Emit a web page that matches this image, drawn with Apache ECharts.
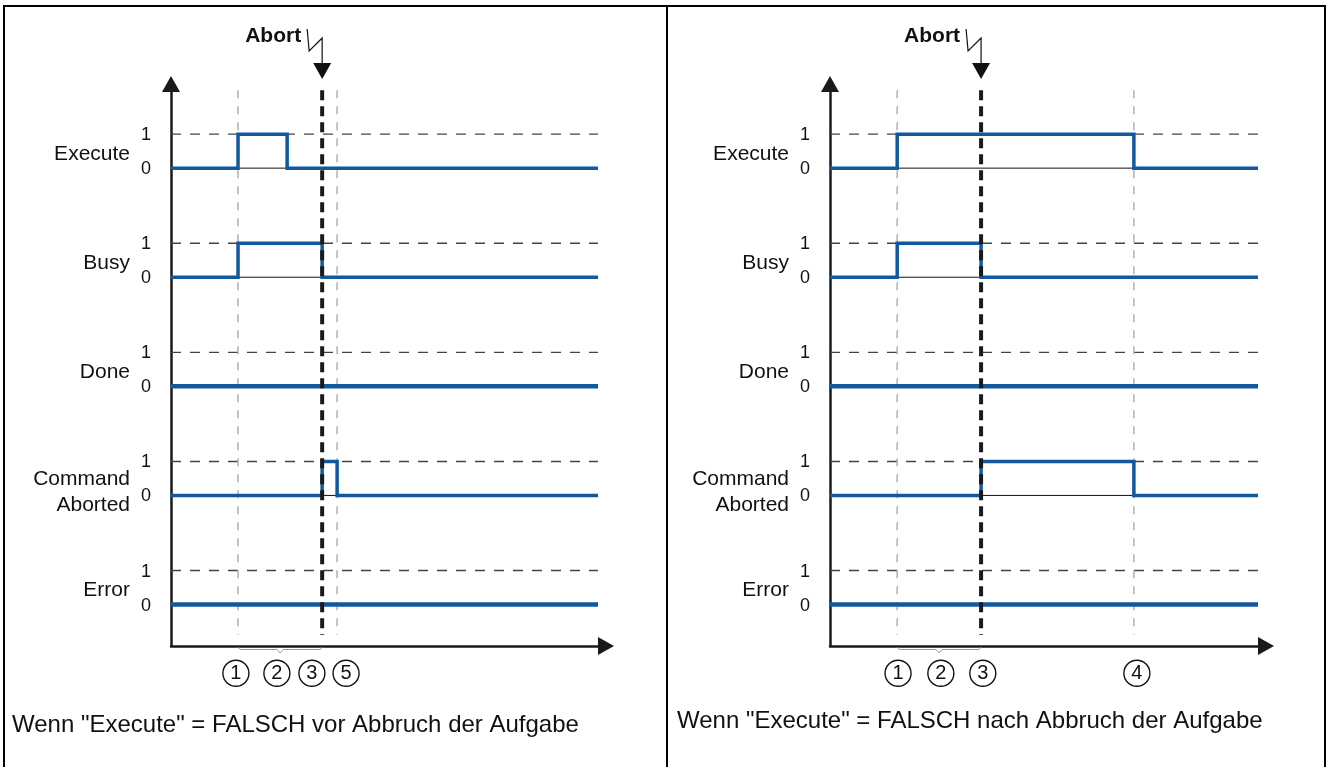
<!DOCTYPE html>
<html><head><meta charset="utf-8">
<script src="https://cdn.jsdelivr.net/npm/echarts@6/dist/echarts.min.js"></script>
<style>html,body{margin:0;padding:0;background:#fff}#c{width:1328px;height:767px}</style>
</head><body><div id="c"></div>
<script>
// ---------- data ----------
const signalNames = ['Execute', 'Busy', 'Done', 'Command\nAborted', 'Error'];
const levelLabels = ['0', '1'];

// Left panel: "Execute" = FALSE before abort
const leftExecute    = [[0, 0], [15.7, 1], [27.2, 0], [100, 0]];
const leftBusy       = [[0, 0], [15.7, 1], [35.4, 0], [100, 0]];
const leftDone       = [[0, 0], [100, 0]];
const leftCmdAborted = [[0, 0], [35.4, 1], [38.9, 0], [100, 0]];
const leftError      = [[0, 0], [100, 0]];
const leftEvents     = [15.7, 38.9];
const leftAbort      = 35.4;
const leftBrace      = [15.7, 35.4];
const leftMarkers    = [['1', 15.2], ['2', 24.8], ['3', 33.0], ['5', 41.0]];
const leftCaption    = 'Wenn "Execute" = FALSCH vor Abbruch der Aufgabe';

// Right panel: "Execute" = FALSE after abort
const rightExecute    = [[0, 0], [15.7, 1], [71, 0], [100, 0]];
const rightBusy       = [[0, 0], [15.7, 1], [35.3, 0], [100, 0]];
const rightDone       = [[0, 0], [100, 0]];
const rightCmdAborted = [[0, 0], [35.3, 1], [71, 0], [100, 0]];
const rightError      = [[0, 0], [100, 0]];
const rightEvents     = [15.7, 71];
const rightAbort      = 35.3;
const rightBrace      = [15.7, 35.3];
const rightMarkers    = [['1', 15.9], ['2', 25.9], ['3', 35.7], ['4', 71.7]];
const rightCaption    = 'Wenn "Execute" = FALSCH nach Abbruch der Aufgabe';

const abortText = 'Abort';

// ---------- layout / style ----------
const FONT = '"Liberation Sans", Arial, Helvetica, sans-serif';
const BLUE = '#11589f';
const Y_MAX = 16.3;
const laneBase = k => 1.22 + 3.21 * (signalNames.length - 1 - k);
const V_TOP = 16.35, V_BOT = 0.32;

const chart = echarts.init(document.getElementById('c'), null, {renderer: 'canvas'});

function axisX(gi) {
  return {
    gridIndex: gi, type: 'value', min: 0, max: 100,
    axisLine: {show: true, onZero: false, lineStyle: {color: '#1a1a1a', width: 2.5},
      symbol: ['none', 'triangle'], symbolSize: [18, 16], symbolOffset: [0, 8]},
    axisTick: {show: false}, axisLabel: {show: false}, splitLine: {show: false}
  };
}
function axisY(gi) {
  return {
    gridIndex: gi, type: 'value', min: 0, max: Y_MAX,
    axisLine: {show: true, onZero: false, lineStyle: {color: '#1a1a1a', width: 2.5},
      symbol: ['none', 'triangle'], symbolSize: [18, 16], symbolOffset: [0, 8]},
    axisTick: {show: false}, axisLabel: {show: false}, splitLine: {show: false}
  };
}

function lineS(gi, data, style, z, extra) {
  return Object.assign({
    type: 'line', xAxisIndex: gi, yAxisIndex: gi, data: data,
    symbol: 'none', silent: true, clip: false, z: z,
    lineStyle: style, animation: false
  }, extra || {});
}

function panelSeries(gi, signals, events, abort, brace, markers) {
  const s = [];
  signals.forEach((sig, k) => {
    const b = laneBase(k);
    s.push(lineS(gi, [[0, b + 1], [100, b + 1]], {color: '#444', width: 1.4, type: [10, 9]}, 1));
    s.push(lineS(gi, [[0, b], [100, b]], {color: '#111', width: 1}, 2));
    const thick = (k === 2 || k === 4) ? 4.5 : 3.5;
    s.push(lineS(gi, sig.map(p => [p[0], p[1] + b]), {color: BLUE, width: thick, cap: 'butt', join: 'miter'}, 5, {step: 'end'}));
  });
  events.forEach(t => {
    s.push(lineS(gi, [[t, V_TOP], [t, V_BOT]], {color: '#b0b0b0', width: 1.5, type: [8, 8]}, 3));
  });
  s.push(lineS(gi, [[abort, V_TOP], [abort, V_BOT]], {color: '#1a1a1a', width: 4, type: [10, 6]}, 6));

  // signal name and level labels
  s.push({
    type: 'custom', xAxisIndex: gi, yAxisIndex: gi, silent: true, z: 8, animation: false,
    data: signalNames.map((n, k) => [0, k]),
    renderItem: (params, api) => {
      const k = api.value(1);
      const b = laneBase(k);
      const p0 = api.coord([0, b]);
      const p1 = api.coord([0, b + 1]);
      const name = signalNames[k];
      const two = name.indexOf('\n') >= 0;
      const pn = api.coord([0, b + (two ? 0.1 : 0.42)]);
      const txt = (x, y, t, align, size) => ({
        type: 'text', x: x, y: y,
        style: {text: t, fontFamily: FONT, fontSize: size, fill: '#111', align: align,
          verticalAlign: 'middle', lineHeight: 26}
      });
      return {type: 'group', children: [
        txt(p0[0] - 25, p0[1] + 1, levelLabels[0], 'center', 18),
        txt(p1[0] - 25, p1[1] + 1, levelLabels[1], 'center', 18),
        txt(pn[0] - 41, pn[1], name, 'right', 21)
      ]};
    }
  });

  // Abort marker with lightning arrow
  s.push({
    type: 'custom', xAxisIndex: gi, yAxisIndex: gi, silent: true, z: 9, animation: false,
    data: [[abort, Y_MAX]],
    renderItem: (params, api) => {
      const p = api.coord([api.value(0), api.value(1)]);
      const x = p[0], top = p[1];
      return {type: 'group', children: [
        {type: 'text', x: x - 21, y: top - 56,
          style: {text: abortText, fontFamily: FONT, fontSize: 21, fontWeight: 'bold', fill: '#111',
            align: 'right', verticalAlign: 'middle'}},
        {type: 'polyline', shape: {points: [[x - 15, top - 63], [x - 13, top - 41], [x, top - 54], [x, top - 28]]},
          style: {stroke: '#111', lineWidth: 1.2, fill: null}},
        {type: 'polygon', shape: {points: [[x - 9, top - 29], [x + 9, top - 29], [x, top - 13]]},
          style: {fill: '#111'}}
      ]};
    }
  });

  // brace under the axis
  s.push({
    type: 'custom', xAxisIndex: gi, yAxisIndex: gi, silent: true, z: 9, animation: false,
    data: [[brace[0], brace[1]]],
    renderItem: (params, api) => {
      const a = api.coord([api.value(0), 0]);
      const c = api.coord([api.value(1), 0]);
      const x1 = a[0], x2 = c[0], xm = (x1 + x2) / 2, y = a[1];
      return {type: 'polyline', shape: {points: [[x1, y + 1], [x1 + 2, y + 3.5], [xm - 3, y + 3.5], [xm, y + 7],
        [xm + 3, y + 3.5], [x2 - 2, y + 3.5], [x2, y + 1]]},
        style: {stroke: '#9a9a9a', lineWidth: 1, fill: null}};
    }
  });

  // circled step numbers
  s.push({
    type: 'scatter', xAxisIndex: gi, yAxisIndex: gi, silent: true, z: 10, clip: false, animation: false,
    data: markers.map(m => [m[1], -0.8, m[0]]),
    symbol: 'circle', symbolSize: 26,
    itemStyle: {color: '#fff', borderColor: '#111', borderWidth: 1.4, opacity: 1},
    label: {show: true, position: 'inside', formatter: p => p.data[2], fontFamily: FONT, fontSize: 20, color: '#111'}
  });
  return s;
}

const option = {
  backgroundColor: '#fff',
  animation: false,
  grid: [
    {left: 171, top: 92, width: 427, height: 554, outerBoundsMode: 'none'},
    {left: 830, top: 92, width: 428, height: 554, outerBoundsMode: 'none'}
  ],
  xAxis: [axisX(0), axisX(1)],
  yAxis: [axisY(0), axisY(1)],
  series: [].concat(
    panelSeries(0, [leftExecute, leftBusy, leftDone, leftCmdAborted, leftError], leftEvents, leftAbort, leftBrace, leftMarkers),
    panelSeries(1, [rightExecute, rightBusy, rightDone, rightCmdAborted, rightError], rightEvents, rightAbort, rightBrace, rightMarkers)
  ),
  graphic: [
    {type: 'rect', shape: {x: 4, y: 6, width: 1321, height: 800},
      style: {fill: null, stroke: '#000', lineWidth: 2}, silent: true, z: 0},
    {type: 'line', shape: {x1: 667, y1: 6, x2: 667, y2: 800}, style: {stroke: '#000', lineWidth: 2}, silent: true},
    {type: 'text', x: 12, y: 725, style: {text: leftCaption, fontFamily: FONT, fontSize: 24, fill: '#111', verticalAlign: 'middle'}},
    {type: 'text', x: 677, y: 721, style: {text: rightCaption, fontFamily: FONT, fontSize: 24, fill: '#111', verticalAlign: 'middle'}}
  ]
};
chart.setOption(option);
</script>
</body></html>
